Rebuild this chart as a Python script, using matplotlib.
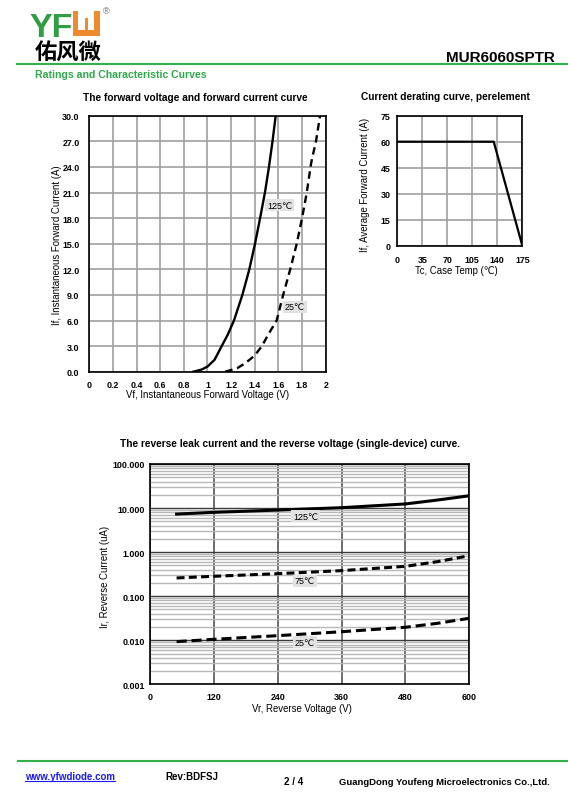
import numpy as np
import matplotlib
matplotlib.use("Agg")
import matplotlib.pyplot as plt
from matplotlib.ticker import LogLocator, FixedLocator, NullFormatter
from matplotlib.patches import Rectangle

plt.rcParams['font.family'] = ['Liberation Sans', 'DejaVu Sans']

# ---------------- data ----------------
vf_125 = [0.88, 0.95, 1.00, 1.06, 1.12, 1.17, 1.224, 1.295, 1.354, 1.402, 1.445, 1.486, 1.52, 1.55, 1.577]
if_125 = [0.0, 0.25, 0.6, 1.4, 3.0, 4.3, 6.0, 9.0, 12.0, 15.0, 18.0, 21.0, 24.0, 27.0, 30.0]
vf_25 = [1.15, 1.25, 1.32, 1.40, 1.46, 1.52, 1.585, 1.64, 1.70, 1.755, 1.80, 1.84, 1.875, 1.885, 1.918, 1.952]
if_25 = [0.0, 0.4, 1.0, 1.9, 3.0, 4.5, 6.0, 9.0, 12.0, 15.0, 18.0, 21.0, 24.3, 25.0, 27.0, 30.0]
fwd_xticks = [0, 0.2, 0.4, 0.6, 0.8, 1.0, 1.2, 1.4, 1.6, 1.8, 2.0]
fwd_xlabels = ["0", "0.2", "0.4", "0.6", "0.8", "1", "1.2", "1.4", "1.6", "1.8", "2"]
fwd_yticks = [0, 3, 6, 9, 12, 15, 18, 21, 24, 27, 30]

tc = [0, 135, 175]
if_avg = [60, 60, 0]
der_xticks = [0, 35, 70, 105, 140, 175]
der_yticks = [0, 15, 30, 45, 60, 75]

vr = [50, 120, 240, 360, 480, 540, 600]
ir_125 = [7.3, 8.0, 9.0, 10.2, 12.4, 15.2, 19.0]
ir_75 = [0.259, 0.283, 0.324, 0.38, 0.476, 0.607, 0.83]
ir_25 = [0.0093, 0.0105, 0.0127, 0.0156, 0.0197, 0.0242, 0.0315]
rev_xticks = [0, 120, 240, 360, 480, 600]
rev_yticks = [0.001, 0.01, 0.1, 1, 10, 100]
rev_ylabels = ["0.001", "0.010", "0.100", "1.000", "10.000", "100.000"]

W, H = 568, 804
fig = plt.figure(figsize=(W / 100, H / 100), dpi=100)


def fx(x):
    return x / W


def fy(y):
    return 1 - y / H


def axes_px(l, t, r, b):
    return fig.add_axes([fx(l), fy(b), fx(r) - fx(l), (b - t) / H])


def rect_px(l, t, r, b, color):
    fig.patches.append(Rectangle((fx(l), fy(b)), fx(r) - fx(l), (b - t) / H,
                                 transform=fig.transFigure, facecolor=color, edgecolor='none'))


GREEN = '#33b04a'
ORANGE = '#ef8a2e'

# ---------------- header ----------------
fig.text(fx(29.5), fy(37), "YF", color='#2f9e44', fontsize=24.5, fontweight='bold', va='baseline', ha='left')
rect_px(72.7, 11.7, 100, 36.7, ORANGE)
rect_px(78.3, 11.7, 94.4, 31.3, 'white')
rect_px(85.0, 18.5, 87.6, 31.3, ORANGE)
fig.text(fx(103), fy(14), "®", fontsize=6.5, color='#555555', ha='left', va='baseline')
fig.text(fx(34.5), fy(59.5), "佑风微", fontsize=16, fontweight='bold', ha='left', va='baseline',
         family=['Noto Sans CJK SC', 'DejaVu Sans'])
fig.text(fx(555), fy(61.7), "MUR6060SPTR", fontsize=11, fontweight='bold', ha='right', va='baseline')
fig.add_artist(plt.Line2D([fx(17), fx(568)], [fy(65), fy(65)], color=GREEN, lw=1.5))
fig.text(fx(35), fy(77.5), "Ratings and Characteristic Curves", fontsize=7.6, fontweight='bold',
         color='#2ea84a', ha='left', va='baseline')

# ---------------- footer ----------------
fig.add_artist(plt.Line2D([fx(18), fx(568)], [fy(762.2), fy(762.2)], color=GREEN, lw=1.5))
fig.text(fx(25), fy(780.5), "www.yfwdiode.com", fontsize=7, fontweight='bold', color='#1a1aff',
         ha='left', va='baseline')
fig.add_artist(plt.Line2D([fx(25), fx(114.5)], [fy(782.3), fy(782.3)], color='#1a1aff', lw=0.8))
fig.text(fx(165), fy(780.5), "Rev:BDFSJ", fontsize=7, fontweight='bold', ha='left', va='baseline')
fig.text(fx(284), fy(785), "2 / 4", fontsize=7, fontweight='bold', ha='left', va='baseline')
fig.text(fx(339), fy(785), "GuangDong Youfeng Microelectronics Co.,Ltd.", fontsize=6.8, fontweight='bold',
         ha='left', va='baseline')

label_box = dict(facecolor='#e2e2e2', edgecolor='none', pad=1.2)
TICKFS = 6.4
LABFS = 6.9
TITFS = 7.25

# ---------------- forward chart ----------------
ax1 = axes_px(89.3, 116.7, 325.7, 372.7)
ax1.set_xlim(0, 2)
ax1.set_ylim(0, 30)
ax1.set_xticks(fwd_xticks)
ax1.set_xticklabels(fwd_xlabels, fontweight='bold')
ax1.set_yticks(fwd_yticks)
ax1.set_yticklabels([f"{v:.1f}" for v in fwd_yticks], fontweight='bold')
ax1.grid(True, color='#a0a0a0', lw=1.2)
ax1.set_axisbelow(True)
ax1.tick_params(axis='y', length=0, labelsize=TICKFS, pad=7)
ax1.tick_params(axis='x', length=0, labelsize=TICKFS, pad=6)
for s in ax1.spines.values():
    s.set_linewidth(1.2)
ax1.plot(vf_125, if_125, color='black', lw=1.7)
ax1.plot(vf_25, if_25, color='black', lw=1.7, ls=(0, (3.2, 2)))
ax1.text(1.61, 19.5, "125℃", fontsize=6.5, ha='center', va='center', bbox=label_box)
ax1.text(1.74, 7.6, "25℃", fontsize=6.5, ha='center', va='center', bbox=label_box)
fig.text(fx(207.5), fy(395), "Vf, Instantaneous Forward Voltage (V)", fontsize=LABFS, ha='center', va='center')
fig.text(fx(57), fy(245), "If, Instantaneous Forward Current (A)", fontsize=LABFS, rotation=90,
         ha='center', va='center')
fig.text(fx(195), fy(98.3), "The forward voltage and forward current curve", fontsize=TITFS, fontweight='bold',
         ha='center', va='center')

# ---------------- derating chart ----------------
ax2 = axes_px(397.3, 116.7, 522.3, 246.7)
ax2.set_xlim(0, 175)
ax2.set_ylim(0, 75)
ax2.set_xticks(der_xticks)
ax2.set_xticklabels([str(v) for v in der_xticks], fontweight='bold')
ax2.set_yticks(der_yticks)
ax2.set_yticklabels([str(v) for v in der_yticks], fontweight='bold')
ax2.grid(True, color='#a0a0a0', lw=1.2)
ax2.set_axisbelow(True)
ax2.tick_params(axis='y', length=0, labelsize=TICKFS, pad=5)
ax2.tick_params(axis='x', length=0, labelsize=TICKFS, pad=6.5)
for s in ax2.spines.values():
    s.set_linewidth(1.2)
ax2.plot(tc, if_avg, color='black', lw=1.6)
fig.text(fx(456.5), fy(271), "Tc, Case Temp (℃)", fontsize=LABFS, ha='center', va='center')
fig.text(fx(365), fy(185), "If, Average Forward Current (A)", fontsize=LABFS, rotation=90,
         ha='center', va='center')
fig.text(fx(445), fy(97.3), "Current derating curve, perelement", fontsize=TITFS, fontweight='bold',
         ha='center', va='center')

# ---------------- reverse chart ----------------
ax3 = axes_px(150, 465, 469.3, 685.3)
ax3.set_yscale('log')
ax3.set_xlim(0, 600)
ax3.set_ylim(0.001, 100)
ax3.set_xticks(rev_xticks)
ax3.set_xticklabels([str(v) for v in rev_xticks], fontweight='bold')
ax3.yaxis.set_major_locator(FixedLocator(rev_yticks))
ax3.set_yticklabels(rev_ylabels, fontweight='bold')
ax3.yaxis.set_minor_locator(LogLocator(base=10, subs=np.arange(2, 10)))
ax3.yaxis.set_minor_formatter(NullFormatter())
ax3.grid(True, which='minor', axis='y', color='#b8b8b8', lw=1.0)
ax3.grid(True, which='major', axis='y', color='#3a3a3a', lw=1.0)
ax3.grid(True, which='major', axis='x', color='#555555', lw=1.2)
ax3.set_axisbelow(True)
ax3.tick_params(which='both', axis='y', length=0, labelsize=TICKFS, pad=3.5)
ax3.tick_params(which='both', axis='x', length=0, labelsize=TICKFS, pad=5.5)
for s in ax3.spines.values():
    s.set_linewidth(1.2)
ax3.plot(vr, ir_125, color='black', lw=2.2)
ax3.plot(vr, ir_75, color='black', lw=2.2, ls=(0, (2.6, 1.4)))
ax3.plot(vr, ir_25, color='black', lw=2.2, ls=(0, (3.3, 1.6)))
ax3.text(292, 6.6, "125℃", fontsize=6.5, ha='center', va='center', bbox=label_box)
ax3.text(291, 0.225, "75℃", fontsize=6.5, ha='center', va='center', bbox=label_box)
ax3.text(291, 0.0090, "25℃", fontsize=6.5, ha='center', va='center', bbox=label_box)
fig.text(fx(302), fy(709.3), "Vr, Reverse Voltage (V)", fontsize=LABFS, ha='center', va='center')
fig.text(fx(105), fy(577), "Ir, Reverse Current (uA)", fontsize=LABFS, rotation=90,
         ha='center', va='center')
fig.text(fx(290), fy(444), "The reverse leak current and the reverse voltage (single-device) curve.",
         fontsize=TITFS, fontweight='bold', ha='center', va='center')

fig.savefig("out.png", dpi=100)
